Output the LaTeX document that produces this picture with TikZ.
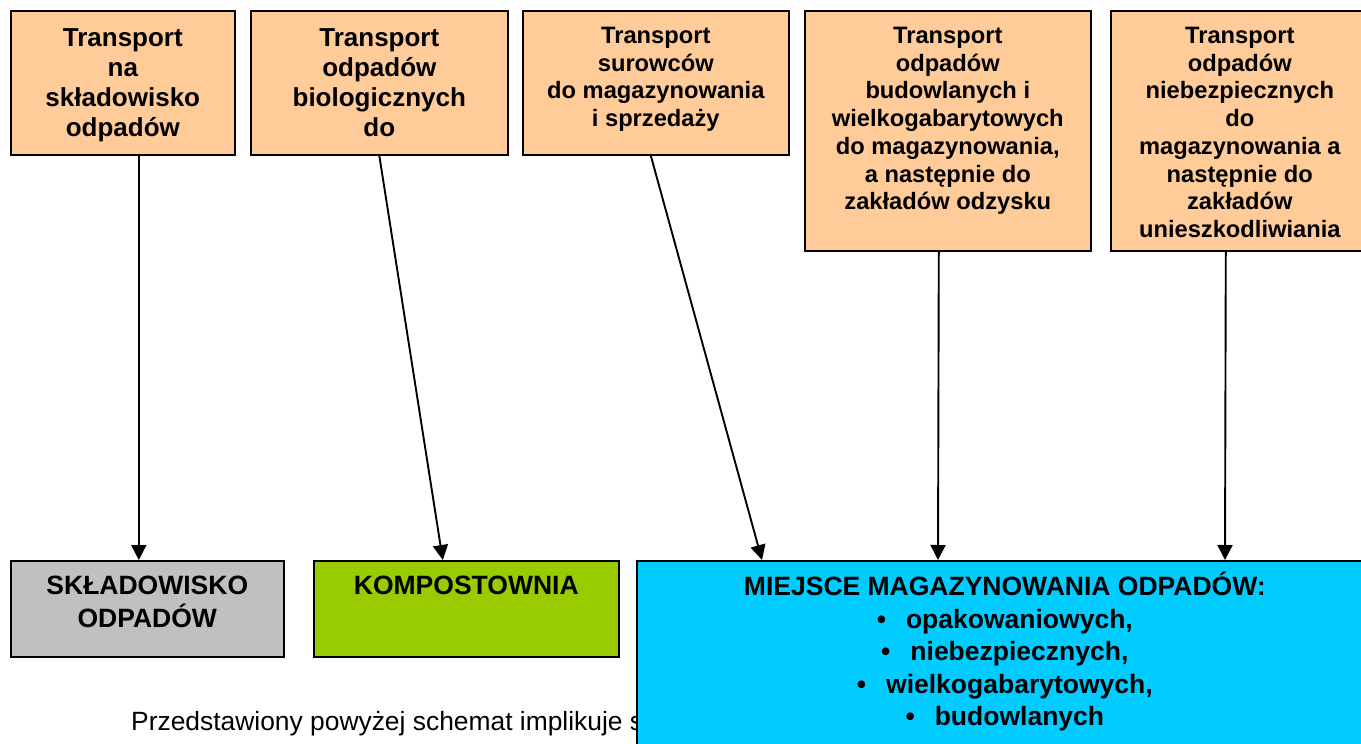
\documentclass[tikz,border=0pt]{standalone}
\usepackage{fontspec}
\setmainfont{Liberation Sans}
\usetikzlibrary{arrows.meta}

\definecolor{transportfill}{HTML}{FFCC99}
\definecolor{landfillgray}{HTML}{C0C0C0}
\definecolor{compostgreen}{HTML}{99CC00}
\definecolor{storageblue}{HTML}{00CCFF}

\tikzset{
  box/.style={draw=black, line width=1.6pt, inner sep=0pt, anchor=north west},
  topbox/.style={box, fill=transportfill},
  bigtext/.style={align=center, inner sep=0pt, anchor=north, font=\fontsize{26}{30}\selectfont\bfseries},
  smalltext/.style={align=center, inner sep=0pt, anchor=north, font=\fontsize{23.7}{27.7}\selectfont\bfseries},
  bottomtext/.style={align=center, inner sep=0pt, anchor=north, font=\fontsize{26.5}{32.5}\selectfont\bfseries},
  flow/.style={line width=1.9pt, -{Triangle[width=15pt,length=15pt]}}
}

\begin{document}
\begin{tikzpicture}[x=1pt, y=-1pt]
  \useasboundingbox (0,0) rectangle (1361,744);
  \clip (0,0) rectangle (1361,744);

  \node[topbox, minimum width=224, minimum height=144] (tr1) at (10,10) {};
  \node[bigtext] (tr1txt) at ([yshift=-18]tr1.north) {Transport\\na\\składowisko\\odpadów};
  \node[topbox, minimum width=257, minimum height=144] (tr2) at (250,10) {};
  \node[bigtext] (tr2txt) at ([yshift=-18]tr2.north) {Transport\\odpadów\\biologicznych\\do};
  \node[topbox, minimum width=266, minimum height=144] (tr3) at (522,10) {};
  \node[smalltext] (tr3txt) at ([yshift=-17]tr3.north) {Transport\\surowców\\do magazynowania\\i sprzedaży};
  \node[topbox, minimum width=286, minimum height=240] (tr4) at (804,10) {};
  \node[smalltext] (tr4txt) at ([yshift=-17]tr4.north) {Transport\\odpadów\\budowlanych i\\wielkogabarytowych\\do magazynowania,\\a następnie do\\zakładów odzysku};
  \node[topbox, minimum width=258, minimum height=240] (tr5) at (1110,10) {};
  \node[smalltext] (tr5txt) at ([yshift=-17]tr5.north) {Transport\\odpadów\\niebezpiecznych\\do\\magazynowania a\\następnie do\\zakładów\\unieszkodliwiania};

  \node[box, fill=landfillgray, minimum width=273, minimum height=96] (landfill) at (10,560) {};
  \node[bottomtext] (landfilltxt) at ([yshift=-16]landfill.north) {SKŁADOWISKO\\ODPADÓW};
  \node[box, fill=compostgreen, minimum width=305, minimum height=96] (compost) at (313,560) {};
  \node[bottomtext] (composttxt) at ([yshift=-16]compost.north) {KOMPOSTOWNIA};

  \node[anchor=base west, inner sep=0pt, font=\fontsize{26.4}{30}\selectfont] (note) at (131,730) {Przedstawiony powyżej schemat implikuje s};

  \node[box, fill=storageblue, minimum width=736, minimum height=220] (storage) at (636,560) {};
  \node[bottomtext] (storagetxt) at ([yshift=-12]storage.north) {MIEJSCE MAGAZYNOWANIA ODPADÓW:\\
    •\hspace{20pt}opakowaniowych,\\•\hspace{20pt}niebezpiecznych,\\
    •\hspace{20pt}wielkogabarytowych,\\•\hspace{20pt}budowlanych};

  \draw[flow] ([xshift=16]tr1.south) -- ([xshift=-8.5]landfill.north);
  \draw[flow] (tr2.south) -- ([xshift=-23.5]compost.north);
  \draw[flow] ([xshift=-5]tr3.south) -- ([xshift=126]storage.north west);
  \draw[flow] ([xshift=-9]tr4.south) -- ([xshift=302]storage.north west);
  \draw[flow] ([xshift=-14]tr5.south) -- ([xshift=589]storage.north west);
\end{tikzpicture}
\end{document}
